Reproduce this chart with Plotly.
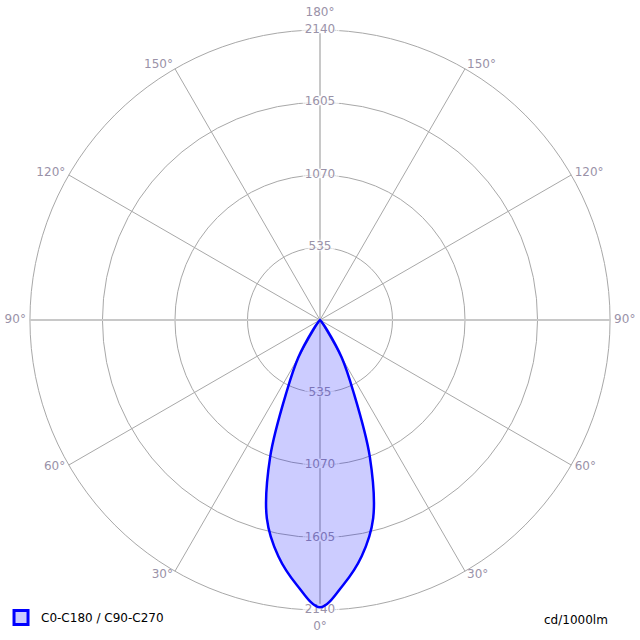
import plotly.graph_objects as go

# ---- data ----
gamma_deg = [0, 5, 10, 15, 20, 25, 30, 35, 40, 45, 50, 55, 60, 65, 70, 75, 80, 85, 90,
             95, 100, 105, 110, 115, 120, 125, 130, 135, 140, 145, 150, 155, 160, 165, 170, 175, 180]
intensity_c0_c180 = [2120, 1962, 1770, 1515, 1075, 580, 320, 90, 15, 0, 0, 0, 0, 0, 0, 0, 0, 0, 0,
                     0, 0, 0, 0, 0, 0, 0, 0, 0, 0, 0, 0, 0, 0, 0, 0, 0, 0]
radial_ticks = [535, 1070, 1605, 2140]
radial_labels = ["535", "1070", "1605", "2140"]
angle_ticks = [0, 30, 60, 90, 120, 150, 180, 210, 240, 270, 300, 330]
angle_labels = ["0°", "30°", "60°", "90°", "120°", "150°", "180°", "150°", "120°", "90°", "60°", "30°"]
main_axes = [0, 90]
series_name = "C0-C180 / C90-C270"
unit_label = "cd/1000lm"
r_max = 2140
r_side_label = 2170   # side angle labels anchored just outside the ring
r_pole_label = 2265   # 0° / 180° labels sit further out (beyond the 2140 tick label)
r_range = 2265

# full curve, mirrored (C180 side / C0 side)
theta_full = [-g for g in reversed(gamma_deg)] + gamma_deg[1:]
r_full = list(reversed(intensity_c0_c180)) + intensity_c0_c180[1:]

label_color = "#9a92a8"
font_family = "DejaVu Sans, Verdana, sans-serif"

fig = go.Figure()

# thin spokes every 30 degrees
spoke_r, spoke_t = [], []
for a in angle_ticks:
    spoke_r += [0, r_max, None]
    spoke_t += [a, a, None]
fig.add_trace(go.Scatterpolar(r=spoke_r, theta=spoke_t, mode="lines", connectgaps=False,
                              line=dict(color="#a8a8a8", width=1), showlegend=False, hoverinfo="skip"))

# main axes (0/180 and 90/270) drawn thicker in light grey
for a in main_axes:
    fig.add_trace(go.Scatterpolar(r=[r_max, 0, r_max], theta=[a, a, a + 180], mode="lines",
                                  line=dict(color="#c8c8c8", width=2), showlegend=False, hoverinfo="skip"))

halo = ("0px 0px 2px white, 0px 0px 2px white, 3px 0px 1px white, -3px 0px 1px white, "
        "5px 0px 1px white, -5px 0px 1px white, 0px 0px 4px white")

# radial labels along the vertical axis (up and down)
for ang in (180, 0):
    fig.add_trace(go.Scatterpolar(r=radial_ticks, theta=[ang] * len(radial_ticks), mode="text",
                                  text=radial_labels,
                                  textfont=dict(family=font_family, size=12, color=label_color, shadow=halo),
                                  showlegend=False, hoverinfo="skip"))

# angle labels outside the outer ring
lab_r, lab_pos = [], []
for a in angle_ticks:
    if a % 180 == 0:
        lab_r.append(r_pole_label)
        lab_pos.append("middle center")
    elif a < 180:
        lab_r.append(r_side_label)
        lab_pos.append("middle left")
    else:
        lab_r.append(r_side_label)
        lab_pos.append("middle right")
fig.add_trace(go.Scatterpolar(r=lab_r, theta=angle_ticks, mode="text",
                              text=angle_labels, textposition=lab_pos, cliponaxis=False,
                              textfont=dict(family=font_family, size=12, color=label_color),
                              showlegend=False, hoverinfo="skip"))

# curve
fig.add_trace(go.Scatterpolar(r=r_full, theta=theta_full, mode="lines", fill="toself",
                              fillcolor="rgba(0,0,255,0.2)",
                              line=dict(color="#0000ff", width=2.5, shape="spline", smoothing=1),
                              showlegend=False, hoverinfo="skip"))

# legend entry
fig.add_trace(go.Scatterpolar(r=[None], theta=[None], mode="markers", name=series_name,
                              marker=dict(symbol="square", size=14, color="#ccccff",
                                          line=dict(color="#0000ff", width=3)),
                              showlegend=True))

fig.update_layout(
    width=640, height=640,
    margin=dict(l=13, r=13, t=13, b=13, autoexpand=False),
    paper_bgcolor="white",
    font=dict(family=font_family, size=12, color="#000000"),
    polar=dict(
        bgcolor="rgba(0,0,0,0)",
        domain=dict(x=[0, 1], y=[0, 1]),
        angularaxis=dict(
            rotation=-90, direction="clockwise",
            showticklabels=False, ticks="", showgrid=False, showline=False,
        ),
        radialaxis=dict(
            range=[0, r_range], tickmode="array", tickvals=radial_ticks,
            showticklabels=False, ticks="", showline=False,
            showgrid=True, gridcolor="#a8a8a8", gridwidth=1,
        ),
    ),
    showlegend=True,
    legend=dict(xref="paper", yref="paper", x=-0.0195, y=-0.0081, xanchor="left", yanchor="bottom",
                itemwidth=30,
                bgcolor="rgba(0,0,0,0)", font=dict(family=font_family, size=12, color="#000000")),
    annotations=[dict(text=unit_label, xref="paper", yref="paper", x=0.9723, y=0.0261, xanchor="right",
                      yanchor="top", showarrow=False,
                      font=dict(family=font_family, size=12, color="#000000"))],
)

fig.write_html("out.html", post_script="document.body.style.margin='0px';",
               config={"displayModeBar": False})
